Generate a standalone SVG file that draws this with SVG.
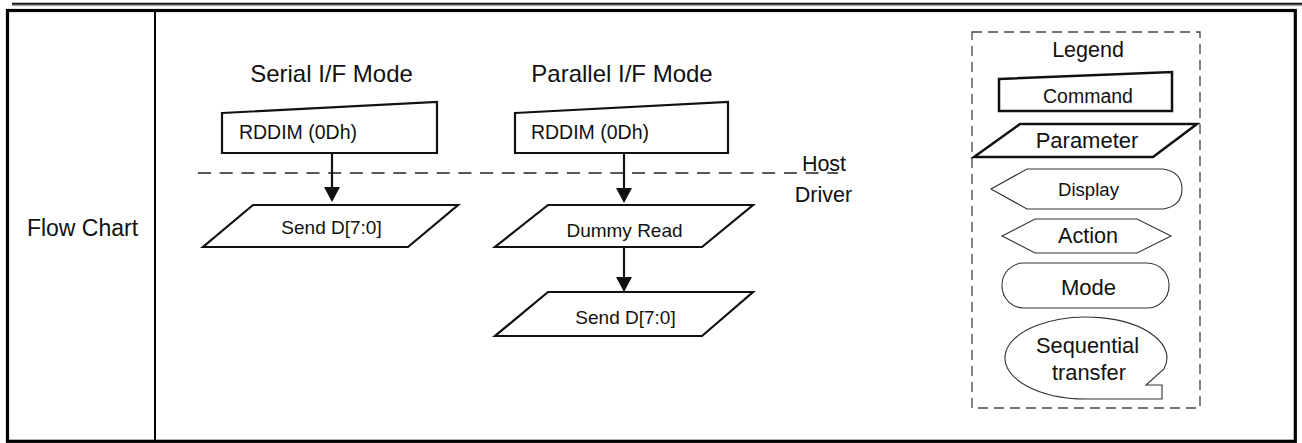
<svg xmlns="http://www.w3.org/2000/svg" width="1302" height="443" viewBox="0 0 1302 443">
<style>
text{font-family:"Liberation Sans",Arial,sans-serif;fill:#111;text-anchor:middle}
.shape{fill:#fff;stroke:#111;stroke-width:2.2;stroke-linejoin:miter}
.leg{fill:#fff;stroke:#333;stroke-width:1.1}
.legb{fill:#fff;stroke:#111;stroke-width:2.5}
.conn{stroke:#111;stroke-width:2.2;fill:none}
</style>
<defs>
<marker id="ah" markerUnits="userSpaceOnUse" markerWidth="16" markerHeight="16" refX="1" refY="8" orient="auto">
<path d="M0,0 L15,8 L0,16 z" fill="#111"/>
</marker>
</defs>
<rect width="1302" height="443" fill="#fff"/>
<g id="frame">
<line x1="12" y1="3.8" x2="1302" y2="3.8" stroke="#111" stroke-width="2"/>
<line x1="12" y1="5.6" x2="1302" y2="5.6" stroke="#999" stroke-width="1"/>
<rect x="7.5" y="10.5" width="1287.8" height="430.8" fill="none" stroke="#000" stroke-width="3.2"/>
<line x1="155" y1="10.5" x2="155" y2="441" stroke="#000" stroke-width="2"/>
<text x="82.5" y="236" font-size="23">Flow Chart</text>
</g>
<g id="titles">
<text x="331.5" y="82" font-size="24">Serial I/F Mode</text>
<text x="622" y="82" font-size="24">Parallel I/F Mode</text>
</g>
<g id="hostdriver">
<line x1="198" y1="173" x2="838" y2="173" stroke="#222" stroke-width="1.6" stroke-dasharray="13,8.7"/>
<text x="824" y="171" font-size="21.5">Host</text>
<text x="823.5" y="202" font-size="21.5">Driver</text>
</g>
<g id="s_cmd">
<polygon class="shape" points="222,113 437,102 437,153 222,153"/>
<text x="298" y="139" font-size="19.5">RDDIM (0Dh)</text>
</g>
<g id="s_send">
<polygon class="shape" points="253,205 458,205 408,247 203,247"/>
<text x="331.5" y="234" font-size="19">Send D[7:0]</text>
</g>
<g id="p_cmd">
<polygon class="shape" points="515,113 728,102 728,153 515,153"/>
<text x="590" y="139" font-size="19.5">RDDIM (0Dh)</text>
</g>
<g id="p_dummy">
<polygon class="shape" points="548,205 753,205 702,247 495,247"/>
<text x="624.5" y="237" font-size="19">Dummy Read</text>
</g>
<g id="p_send">
<polygon class="shape" points="548,292 753,292 702,336 495,336"/>
<text x="625.5" y="324" font-size="19">Send D[7:0]</text>
</g>
<g id="connectors">
<line class="conn" x1="332" y1="153" x2="332" y2="188" marker-end="url(#ah)"/>
<line class="conn" x1="624" y1="153" x2="624" y2="189" marker-end="url(#ah)"/>
<line class="conn" x1="624" y1="247" x2="624" y2="278" marker-end="url(#ah)"/>
</g>
<g id="legend">
<rect x="972" y="32" width="228" height="376" fill="none" stroke="#444" stroke-width="1.3" stroke-dasharray="10,6"/>
<text x="1088" y="57" font-size="21.5">Legend</text>
</g>
<g id="leg_command">
<polygon class="legb" points="999,79 1172,72 1172,111 999,111"/>
<text x="1088" y="103" font-size="19.5">Command</text>
</g>
<g id="leg_parameter">
<polygon class="legb" points="1020,124 1197,124 1153,157 974,157"/>
<text x="1087" y="148" font-size="22">Parameter</text>
</g>
<g id="leg_display">
<path class="leg" d="M991,189 L1027,169 L1163,169 Q1182,172 1182,189 Q1182,206 1163,209 L1027,209 Z"/>
<text x="1088.5" y="196" font-size="18.6">Display</text>
</g>
<g id="leg_action">
<polygon class="leg" points="1002,236 1035,219 1137,219 1171,236 1137,253 1035,253"/>
<text x="1088" y="243" font-size="21.6">Action</text>
</g>
<g id="leg_mode">
<rect class="leg" x="1002" y="263" width="167" height="45" rx="22" ry="22"/>
<text x="1088.5" y="295" font-size="22">Mode</text>
</g>
<g id="leg_seq">
<path class="leg" d="M1162,399 L1086,399 A81,41 0 1 1 1164.2,368.6 L1146,385 L1162,385 Z"/>
<text x="1087.5" y="353" font-size="21.8">Sequential</text>
<text x="1089" y="380" font-size="21.8">transfer</text>
</g>
</svg>
